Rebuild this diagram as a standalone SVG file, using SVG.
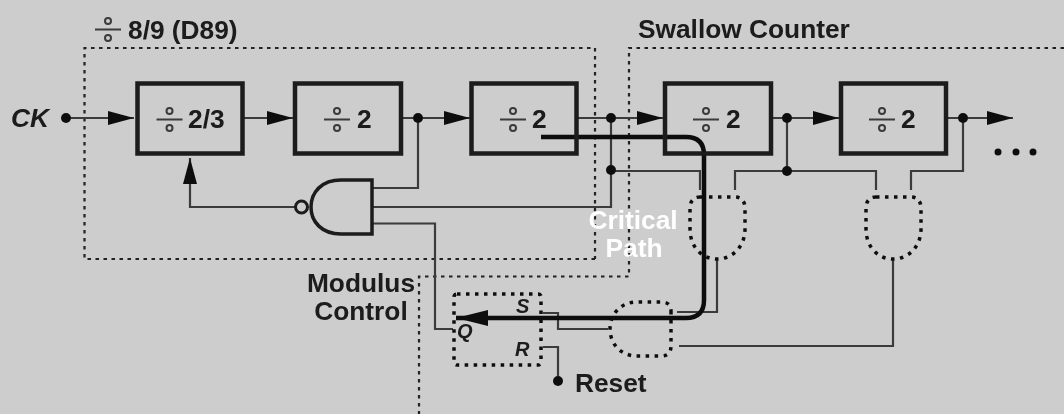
<svg xmlns="http://www.w3.org/2000/svg" width="1064" height="414" viewBox="0 0 1064 414">
<style>
text{font-family:"Liberation Sans",Arial,sans-serif;font-weight:bold;fill:#1a1a1a}
.lab{font-size:26.300px}
.mid{text-anchor:middle}
.it{font-style:italic}
.sm{font-size:20px}
.blk{fill:none;stroke:#1a1a1a;stroke-width:4.500}
.w{fill:none;stroke:#3a3a3a;stroke-width:2.200}
.dot{fill:none;stroke:#111;stroke-width:3.500;stroke-dasharray:3.500 5.500}
.dot2{fill:none;stroke:#222;stroke-width:2.200;stroke-dasharray:3.500 4.500}
.dv{fill:none;stroke:#3a3a3a;stroke-width:2}
</style>
<defs>
<g id="div"><path class="dv" d="M-13 0H13"/><circle class="dv" cx="0" cy="-8.500" r="3"/><circle class="dv" cx="0" cy="8.500" r="3"/></g>
<marker id="arr" markerUnits="userSpaceOnUse" markerWidth="26" markerHeight="16" refX="26" refY="8" orient="auto"><path d="M0 1L26 8L0 15Z" fill="#111"/></marker>
<marker id="arrB" markerUnits="userSpaceOnUse" markerWidth="32" markerHeight="18" refX="32" refY="9" orient="auto"><path d="M0 1L32 9L0 17Z" fill="#111"/></marker>
<filter id="soft" x="0" y="0" width="100%" height="100%"><feGaussianBlur stdDeviation="0.45"/></filter>
</defs>
<rect width="1064" height="414" fill="#cdcdcd"/>
<g filter="url(#soft)">
<g id="boundaries">
<path class="dot2" d="M595 259H84.500V48H595V259"/>
<path class="dot2" d="M1064 48H629V276.500H419V414"/>
</g>
<g id="connectors">
<path class="w" d="M66 118H134" marker-end="url(#arr)"/>
<path class="w" d="M243 118H293" marker-end="url(#arr)"/>
<path class="w" d="M401 118H470" marker-end="url(#arr)"/>
<path class="w" d="M577 118H663" marker-end="url(#arr)"/>
<path class="w" d="M771 118H839" marker-end="url(#arr)"/>
<path class="w" d="M946 118H1013" marker-end="url(#arr)"/>
<path class="w" d="M295 207H190V158" marker-end="url(#arr)"/>
<path class="w" d="M372 188H418V118"/>
<path class="w" d="M372 207H611V118"/>
<path class="w" d="M372 223.500H435V329H453"/>
<path class="w" d="M611 171H700V190"/>
<path class="w" d="M735 190V171H876V190"/>
<path class="w" d="M787 118V171"/>
<path class="w" d="M911 190V171H963V118"/>
<path class="w" d="M717 259V312H677"/>
<path class="w" d="M893 259V346H679"/>
<path class="w" d="M608 329H558V313H543"/>
<path class="w" d="M543 347H558V381"/>
<path fill="none" stroke="#111" stroke-width="4.500" d="M541 137H686Q704 137 704 155V300Q704 318 686 318H456" marker-end="url(#arrB)"/>
<g fill="#111">
<circle cx="66" cy="118" r="5"/><circle cx="418" cy="118" r="5"/><circle cx="611" cy="118" r="5"/><circle cx="611" cy="170" r="5"/><circle cx="787" cy="118" r="5"/><circle cx="787" cy="171" r="5"/><circle cx="963" cy="118" r="5"/><circle cx="558" cy="381" r="5"/>
<circle cx="998" cy="152" r="3.500"/><circle cx="1016" cy="152" r="3.500"/><circle cx="1033" cy="152" r="3.500"/>
</g>
</g>
<g id="div23"><rect class="blk" x="137.500" y="83.500" width="105" height="70"/><use href="#div" x="169.500" y="119.500"/><text class="lab" x="188" y="128">2/3</text></g>
<g id="div2a"><rect class="blk" x="295" y="83.500" width="106" height="70"/><use href="#div" x="337" y="119.500"/><text class="lab" x="357" y="128">2</text></g>
<g id="div2b"><rect class="blk" x="471.500" y="83.500" width="105" height="70"/><use href="#div" x="513" y="119.500"/><text class="lab" x="532" y="128">2</text></g>
<g id="div2c"><rect class="blk" x="665" y="83.500" width="106" height="70"/><use href="#div" x="706" y="119.500"/><text class="lab" x="726" y="128">2</text></g>
<g id="div2d"><rect class="blk" x="841" y="83.500" width="105" height="70"/><use href="#div" x="882" y="119.500"/><text class="lab" x="901" y="128">2</text></g>
<g id="nand"><path fill="#cdcdcd" stroke="#1a1a1a" stroke-width="3.500" d="M372 180V234H341C322 234 311 222 311 207C311 192 322 180 341 180Z"/><circle cx="301.500" cy="207" r="6" fill="#cdcdcd" stroke="#1a1a1a" stroke-width="3"/></g>
<g id="and1"><path class="dot" d="M700 197H735Q745 197 745 209V229C745 246 733 259 717 259C701 259 690 246 690 229V209Q690 197 700 197Z"/></g>
<g id="and2"><path class="dot" d="M876 197H911Q921 197 921 209V229C921 246 909 259 893 259C877 259 866 246 866 229V209Q866 197 876 197Z"/></g>
<g id="gate3"><path class="dot" d="M671 311V346Q671 356 661 356H637C621 356 610 344 610 329C610 314 621 302 637 302H661Q671 302 671 311Z"/></g>
<g id="sr"><rect class="dot" x="454" y="294" width="87" height="71" rx="3"/>
<text class="sm it" x="516" y="313">S</text><text class="sm it" x="457" y="338">Q</text><text class="sm it" x="515" y="356">R</text></g>
<g id="labels">
<use href="#div" x="108" y="29.500"/>
<text class="lab" x="128" y="39">8/9 (D89)</text>
<text class="lab" x="638" y="38">Swallow Counter</text>
<text class="lab it" x="11" y="127">CK</text>
<text class="lab mid" x="361" y="292">Modulus</text>
<text class="lab mid" x="361" y="320">Control</text>
<text class="lab mid" x="633" y="229" style="fill:#fff">Critical</text>
<text class="lab mid" x="634" y="257" style="fill:#fff">Path</text>
<text class="lab" x="575" y="392">Reset</text>
</g>
</g>
</svg>
